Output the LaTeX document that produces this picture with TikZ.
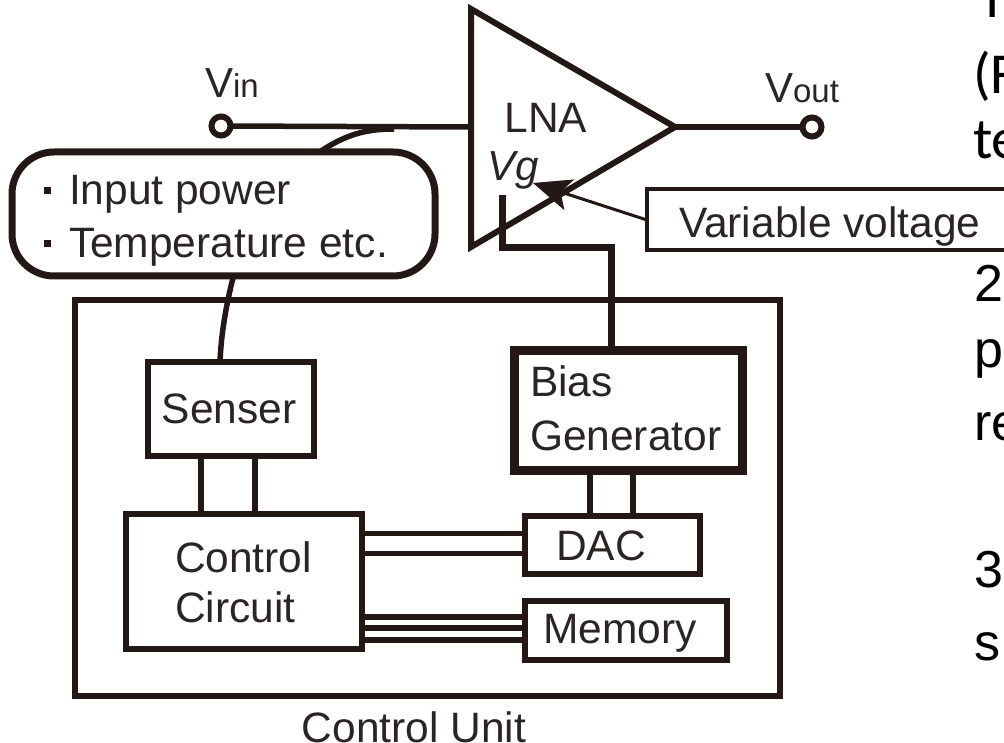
\documentclass[tikz,border=0pt]{standalone}
\usepackage{fontspec}
\setmainfont{Liberation Sans}
\newfontfamily\cutfont{Carlito}
\usetikzlibrary{arrows.meta}
\definecolor{ink}{HTML}{231815}
\definecolor{txt}{HTML}{2A2523}
\tikzset{
  wire/.style={draw=ink,line width=5.5pt},
  box/.style={draw=ink,line width=6pt,fill=none,outer sep=0pt,inner sep=0pt},
  lbl/.style={text=txt,font=\fontsize{42.5}{50}\selectfont,inner sep=0pt,outer sep=0pt},
  port/.style={circle,draw=ink,line width=6pt,minimum size=19pt,inner sep=0pt,outer sep=0pt},
  cut text/.style={text=black,font=\fontsize{52}{60}\selectfont,anchor=base west,inner sep=0pt,outer sep=0pt},
  cut serif/.style={cut text,font=\cutfont\fontsize{58}{60}\selectfont},
}
\begin{document}
\begin{tikzpicture}[x=1pt,y=-1pt]
\useasboundingbox (0,0) rectangle (1004,743);
\clip (0,0) rectangle (1004,743);
% text cut by the right edge
\node[cut serif] (t1) at (978,18) {T};
\node[cut serif] (t2) at (973,94) {(F};
\node[cut serif] (t3) at (973,159) {te};
\node[cut text] (t4) at (974,302) {2};
\node[cut text] (t5) at (974,367) {p};
\node[cut text] (t6) at (974,440) {re};
\node[cut text] (t7) at (974,587) {3};
\node[cut text] (t8) at (974,660) {s};
% amplifier
\coordinate (tl) at (471,9);
\coordinate (tip) at (675,127);
\coordinate (bl) at (471,247);
\coordinate (ampin) at (471,127);
\draw[wire,line width=6pt,line join=miter] (tl) -- (tip) -- (bl) -- cycle;
\node[lbl] (lna) at (546,118) {LNA};
\node[lbl,font=\fontsize{42}{50}\selectfont\itshape] (vg) at (513,170) {Vg};
% ports
\node[port] (vin) at (221,126) {};
\node[port] (vout) at (812,127) {};
\node[lbl,font=\fontsize{42}{50}\selectfont] (vinl) at (232,83) {V\fontsize{33}{40}\selectfont in};
\node[lbl,font=\fontsize{42}{50}\selectfont] (voutl) at (802,88) {V\fontsize{33}{40}\selectfont out};
\draw[wire] (vin) -- (ampin);
\draw[wire] (tip) -- (vout);
% condition box
\node[box,line width=7pt,rounded corners=42pt,minimum width=423pt,minimum height=124pt] (cond) at (223.5,214) {};
\node[lbl,anchor=base west] (i1) at (69,205) {Input power};
\node[lbl,anchor=base west] (i2) at (69,258) {Temperature etc.};
\fill[ink] (44,187) rectangle (51,194);
\fill[ink] (44,240) rectangle (51,247);
\coordinate (tap) at (394,129);
\draw[wire] ([xshift=96pt]cond.north) .. controls (345,135) and (365,129) .. (tap);
% control unit
\node[box,minimum width=705pt,minimum height=396pt] (unit) at (427.5,498) {};
\node[lbl] (ul) at (414,727) {Control Unit};
\node[box,minimum width=166pt,minimum height=94pt] (sen) at (231,409) {};
\node[lbl] at (229,409) {Senser};
\draw[wire] ([xshift=10pt]cond.south) .. controls (226,305) and (221,335) .. ([xshift=-11pt]sen.north);
\node[box,line width=9pt,minimum width=228pt,minimum height=120pt] (bias) at (628,410) {};
\node[lbl,anchor=base west] (b1) at (530,396) {Bias};
\node[lbl,anchor=base west] (b2) at (530,450) {Generator};
\node[box,minimum width=236pt,minimum height=135pt] (ctl) at (244,581.5) {};
\node[lbl,anchor=base west] (c1) at (175,572) {Control};
\node[lbl,anchor=base west] (c2) at (175,622) {Circuit};
\node[box,minimum width=175pt,minimum height=58pt] (dac) at (612.5,544.5) {};
\node[lbl] at (601,546) {DAC};
\node[box,minimum width=202pt,minimum height=59pt] (mem) at (626,630.5) {};
\node[lbl] at (620,633) {Memory};
% links
\foreach \d in {-30,24} \draw[wire] ([xshift=\d pt]sen.south) -- ([xshift=\d pt,yshift=-58pt]sen.south);
\foreach \d in {-38,5} \draw[wire] ([xshift=\d pt]bias.south) -- ([xshift=\d pt,yshift=-45pt]bias.south);
\foreach \d in {11,-9} \draw[wire] ([yshift=\d pt]dac.west -| ctl.east) -- ([yshift=\d pt]dac.west);
\foreach \d in {13.5,2.5,-9.5} \draw[wire] ([yshift=\d pt]mem.west -| ctl.east) -- ([yshift=\d pt]mem.west);
% bias feed
\coordinate (vgtop) at (502,195);
\coordinate (feed) at (611,248);
\draw[wire,line join=miter,line width=7pt] (vgtop) -- (502,248) -- (feed) -- (feed |- bias.north);
% variable voltage
\coordinate (vvr) at (1010,250);
\coordinate (vvl) at (647,250);
\coordinate (vvt) at (647,189);
\coordinate (vvtr) at (1010,189);
\draw[draw=ink,line width=3.5pt] (vvtr) -- (vvt) -- (vvl) -- (vvr);
\node[lbl,anchor=base west] (vv) at (679,238) {Variable voltage};
\coordinate (vvs) at (647,220);
\coordinate (arrt) at (533,183);
\draw[draw=ink,line width=3pt,-{Stealth[length=38pt,width=32pt,inset=9pt,fill=ink]}] (vvs) -- (arrt);
\end{tikzpicture}
\end{document}
